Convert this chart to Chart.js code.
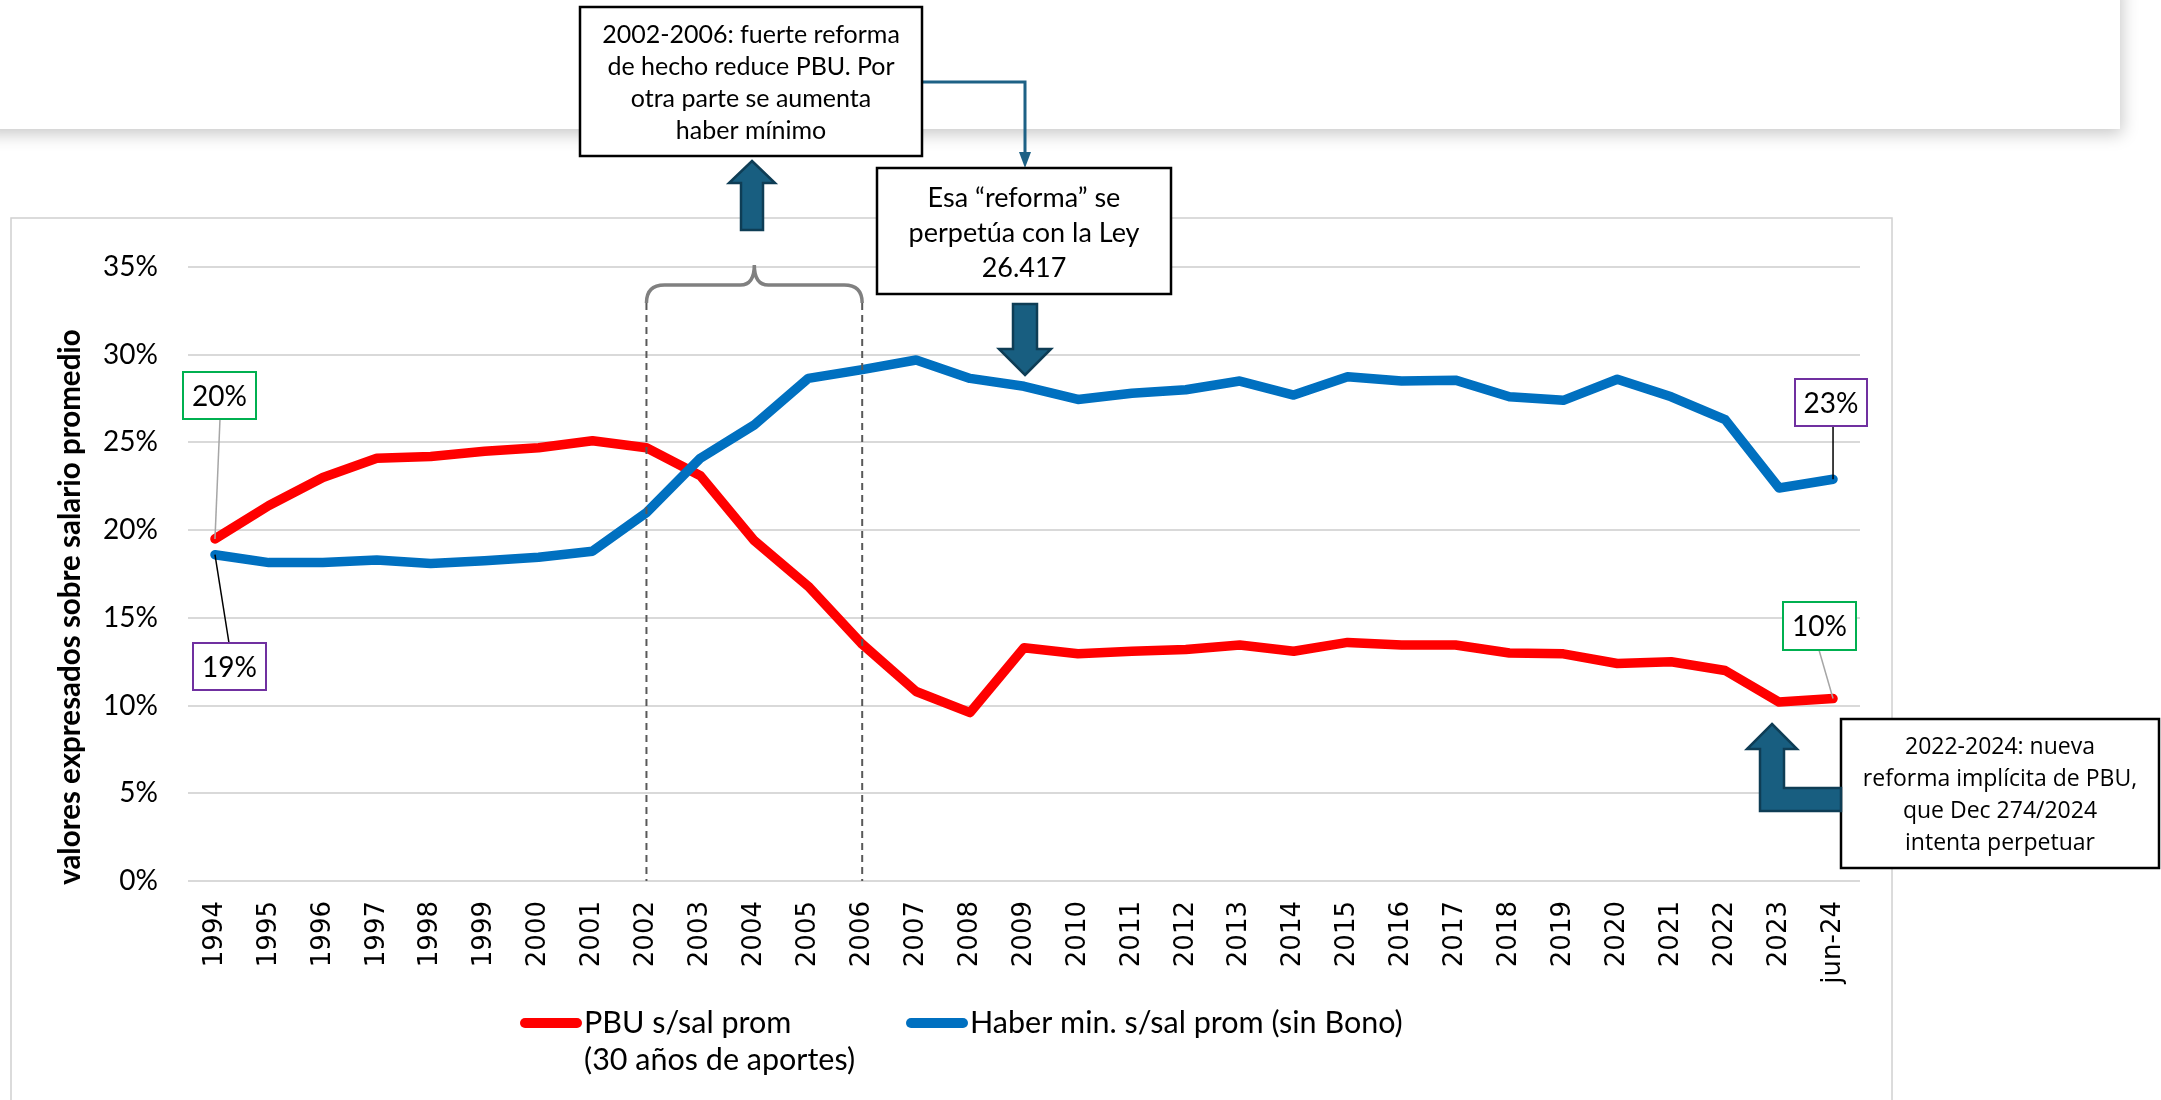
<!DOCTYPE html>
<html>
<head>
<meta charset="utf-8">
<script src="https://cdn.jsdelivr.net/npm/chart.js@4.4.1/dist/chart.umd.min.js"></script>
<style>
  html, body { margin: 0; padding: 0; background: #fff; }
  canvas { display: block; }
</style>
</head>
<body>
<canvas id="chart" width="2161" height="1100"></canvas>
<script>
// categories
const years = ['1994', '1995', '1996', '1997', '1998', '1999', '2000', '2001', '2002', '2003',
    '2004', '2005', '2006', '2007', '2008', '2009', '2010', '2011', '2012', '2013',
    '2014', '2015', '2016', '2017', '2018', '2019', '2020', '2021', '2022', '2023', 'jun-24'];

// PBU s/sal prom (30 años de aportes), % of average salary
const pbuValues = [19.5, 21.4, 23.0, 24.1, 24.2, 24.5, 24.7, 25.1, 24.7, 23.1,
    19.4, 16.8, 13.5, 10.8, 9.6, 13.3, 12.95, 13.1, 13.2, 13.45,
    13.1, 13.6, 13.45, 13.45, 13.0, 12.95, 12.4, 12.5, 12.0, 10.2, 10.4];

// Haber min. s/sal prom (sin Bono), % of average salary
const haberValues = [18.6, 18.15, 18.15, 18.3, 18.1, 18.25, 18.45, 18.8, 21.0, 24.1,
    26.0, 28.65, 29.15, 29.7, 28.65, 28.2, 27.45, 27.8, 28.0, 28.5,
    27.7, 28.75, 28.5, 28.55, 27.6, 27.4, 28.6, 27.6, 26.3, 22.4, 22.9];

// y axis ticks
const yMin = 0;
const yMax = 35;
const yStep = 5;

const legendLabels = [['PBU s/sal prom', '(30 años de aportes)'], ['Haber min. s/sal prom (sin Bono)']];
const yTitle = 'valores expresados sobre salario promedio';

const RED = '#FF0000';
const BLUE = '#0070C0';
const ARROW_FILL = '#185E80';
const ARROW_EDGE = '#0E3D55';
const CALIBRI = 'Lato, "Open Sans", sans-serif';

function drawBox(ctx, x, y, w, h, color, lw) {
    ctx.save();
    ctx.fillStyle = '#fff';
    ctx.fillRect(x, y, w, h);
    ctx.strokeStyle = color;
    ctx.lineWidth = lw;
    ctx.strokeRect(x, y, w, h);
    ctx.restore();
}

function drawLines(ctx, lines, cx, firstY, step, font) {
    ctx.save();
    ctx.fillStyle = '#000';
    ctx.font = font;
    ctx.textAlign = 'center';
    ctx.textBaseline = 'middle';
    lines.forEach((t, i) => ctx.fillText(t, cx, firstY + i * step));
    ctx.restore();
}

function drawPoly(ctx, pts) {
    ctx.save();
    ctx.beginPath();
    pts.forEach((p, i) => i ? ctx.lineTo(p[0], p[1]) : ctx.moveTo(p[0], p[1]));
    ctx.closePath();
    ctx.fillStyle = ARROW_FILL;
    ctx.fill();
    ctx.strokeStyle = ARROW_EDGE;
    ctx.lineWidth = 2.5;
    ctx.lineJoin = 'miter';
    ctx.stroke();
    ctx.restore();
}

function leader(ctx, x1, y1, x2, y2, color) {
    ctx.save();
    ctx.strokeStyle = color;
    ctx.lineWidth = 1.5;
    ctx.beginPath();
    ctx.moveTo(x1, y1);
    ctx.lineTo(x2, y2);
    ctx.stroke();
    ctx.restore();
}

function valueLabel(ctx, text, x, y, w, h, color) {
    drawBox(ctx, x, y, w, h, color, 2);
    drawLines(ctx, [text], x + w / 2, y + h / 2 + 1, 0, '28px ' + CALIBRI);
}

// page background pieces: top card with shadow and chart frame
const backgroundPlugin = {
    id: 'background',
    beforeDraw(chart) {
        const ctx = chart.ctx;
        ctx.save();
        ctx.fillStyle = '#fff';
        ctx.fillRect(0, 0, chart.width, chart.height);
        ctx.shadowColor = 'rgba(0,0,0,0.22)';
        ctx.shadowBlur = 16;
        ctx.shadowOffsetY = 5;
        ctx.shadowOffsetX = 2;
        ctx.fillRect(-20, -20, 2140, 149);
        ctx.restore();

        ctx.save();
        ctx.strokeStyle = '#D0D0D0';
        ctx.lineWidth = 1.5;
        ctx.strokeRect(11, 218, 1881, 900);
        ctx.restore();
    }
};

const annotationPlugin = {
    id: 'annotations',
    afterDraw(chart) {
        const ctx = chart.ctx;
        const xs = chart.scales.x;
        const ys = chart.scales.y;
        const area = chart.chartArea;

        // dashed markers at 2002 and 2006
        const x02 = xs.getPixelForValue(years.indexOf('2002'));
        const x06 = xs.getPixelForValue(years.indexOf('2006'));
        ctx.save();
        ctx.strokeStyle = '#595959';
        ctx.lineWidth = 2;
        ctx.setLineDash([7, 5]);
        ctx.beginPath();
        ctx.moveTo(x02, 303); ctx.lineTo(x02, area.bottom);
        ctx.moveTo(x06, 303); ctx.lineTo(x06, area.bottom);
        ctx.stroke();
        ctx.restore();

        // curly brace over 2002-2006
        const mid = (x02 + x06) / 2;
        ctx.save();
        ctx.strokeStyle = '#808080';
        ctx.lineWidth = 3.5;
        ctx.beginPath();
        ctx.moveTo(x02, 303);
        ctx.quadraticCurveTo(x02, 285, x02 + 18, 285);
        ctx.lineTo(mid - 14, 285);
        ctx.quadraticCurveTo(mid, 285, mid, 265);
        ctx.quadraticCurveTo(mid, 285, mid + 14, 285);
        ctx.lineTo(x06 - 18, 285);
        ctx.quadraticCurveTo(x06, 285, x06, 303);
        ctx.stroke();
        ctx.restore();

        // connector from box 1 to box 2
        ctx.save();
        ctx.strokeStyle = '#1D6185';
        ctx.fillStyle = '#1D6185';
        ctx.lineWidth = 3;
        ctx.beginPath();
        ctx.moveTo(922, 82);
        ctx.lineTo(1025, 82);
        ctx.lineTo(1025, 156);
        ctx.stroke();
        ctx.beginPath();
        ctx.moveTo(1025, 168);
        ctx.lineTo(1019, 152);
        ctx.lineTo(1031, 152);
        ctx.closePath();
        ctx.fill();
        ctx.restore();

        // text boxes
        drawBox(ctx, 580, 7, 342, 149, '#000', 2.5);
        drawLines(ctx, ['2002-2006: fuerte reforma', 'de hecho reduce PBU. Por', 'otra parte se aumenta', 'haber mínimo'],
            751, 35, 32, '25px ' + CALIBRI);

        drawBox(ctx, 877, 168, 294, 126, '#000', 2.5);
        drawLines(ctx, ['Esa “reforma” se', 'perpetúa con la Ley', '26.417'],
            1024, 198, 35, '27px ' + CALIBRI);

        drawBox(ctx, 1841, 719, 318, 149, '#000', 2.5);
        drawLines(ctx, ['2022-2024: nueva', 'reforma implícita de PBU,', 'que Dec 274/2024', 'intenta perpetuar'],
            2000, 747, 32, '23px "Open Sans", sans-serif');

        // block arrows
        drawPoly(ctx, [[752, 161], [775, 183], [763, 183], [763, 230], [741, 230], [741, 183], [729, 183]]);
        drawPoly(ctx, [[1025, 375], [1051, 349], [1037, 349], [1037, 304], [1013, 304], [1013, 349], [999, 349]]);
        drawPoly(ctx, [[1772, 724], [1797, 749], [1784, 749], [1784, 788], [1841, 788], [1841, 811],
            [1760, 811], [1760, 749], [1747, 749]]);

        // value labels at first and last points
        const first = 0;
        const last = years.length - 1;
        const xf = xs.getPixelForValue(first);
        const xl = xs.getPixelForValue(last);
        const pct = v => Math.round(v) + '%';

        leader(ctx, 220, 419, xf, ys.getPixelForValue(pbuValues[first]), '#A6A6A6');
        valueLabel(ctx, pct(pbuValues[first]), 183, 372, 73, 47, '#00B050');

        leader(ctx, 229, 643, xf, ys.getPixelForValue(haberValues[first]), '#000');
        valueLabel(ctx, pct(haberValues[first]), 193, 643, 73, 47, '#7030A0');

        leader(ctx, xl, 426, xl, ys.getPixelForValue(haberValues[last]), '#000');
        valueLabel(ctx, pct(haberValues[last]), 1795, 379, 72, 47, '#7030A0');

        leader(ctx, 1819, 650, xl, ys.getPixelForValue(pbuValues[last]), '#A6A6A6');
        valueLabel(ctx, pct(pbuValues[last]), 1783, 602, 73, 48, '#00B050');

        // y axis title
        ctx.save();
        ctx.translate(70, 607);
        ctx.rotate(-Math.PI / 2);
        ctx.font = 'bold 29.5px ' + CALIBRI;
        ctx.fillStyle = '#000';
        ctx.textAlign = 'center';
        ctx.textBaseline = 'middle';
        ctx.fillText(yTitle, 0, 0);
        ctx.restore();

        // legend
        const legendItems = [
            { color: RED, x: 520, lines: legendLabels[0] },
            { color: BLUE, x: 906, lines: legendLabels[1] }
        ];
        legendItems.forEach(item => {
            ctx.save();
            ctx.strokeStyle = item.color;
            ctx.lineWidth = 10;
            ctx.lineCap = 'round';
            ctx.beginPath();
            ctx.moveTo(item.x + 5, 1023);
            ctx.lineTo(item.x + 57, 1023);
            ctx.stroke();
            ctx.fillStyle = '#000';
            ctx.font = '30.5px ' + CALIBRI;
            ctx.textBaseline = 'middle';
            item.lines.forEach((t, i) => ctx.fillText(t, item.x + 64, 1023 + i * 37));
            ctx.restore();
        });
    }
};

const chart = new Chart(document.getElementById('chart').getContext('2d'), {
    type: 'line',
    data: {
        labels: years,
        datasets: [
            {
                label: 'PBU s/sal prom (30 años de aportes)',
                data: pbuValues,
                borderColor: RED,
                backgroundColor: RED,
                borderWidth: 9.5,
                pointRadius: 0,
                tension: 0,
                borderCapStyle: 'round',
                borderJoinStyle: 'round',
                order: 1
            },
            {
                label: 'Haber min. s/sal prom (sin Bono)',
                data: haberValues,
                borderColor: BLUE,
                backgroundColor: BLUE,
                borderWidth: 9.5,
                pointRadius: 0,
                tension: 0,
                borderCapStyle: 'round',
                borderJoinStyle: 'round',
                order: 0
            }
        ]
    },
    options: {
        responsive: false,
        animation: false,
        layout: { padding: { left: 0, top: 267, right: 301, bottom: 0 } },
        plugins: {
            legend: { display: false },
            tooltip: { enabled: false }
        },
        scales: {
            x: {
                offset: true,
                grid: { display: false, drawTicks: false },
                border: { display: false },
                ticks: {
                    minRotation: 90,
                    maxRotation: 90,
                    autoSkip: false,
                    padding: 20,
                    color: '#000',
                    font: { family: '"DejaVu Sans", Verdana, sans-serif', size: 26 }
                },
                afterFit(scale) { scale.height = 219; }
            },
            y: {
                min: yMin,
                max: yMax,
                grid: { color: '#D9D9D9', lineWidth: 2, drawTicks: false },
                border: { display: false },
                ticks: {
                    stepSize: yStep,
                    padding: 30,
                    color: '#000',
                    font: { family: CALIBRI, size: 28 },
                    callback: v => v + '%'
                },
                afterFit(scale) { scale.width = 188; }
            }
        }
    },
    plugins: [backgroundPlugin, annotationPlugin]
});
</script>
</body>
</html>
